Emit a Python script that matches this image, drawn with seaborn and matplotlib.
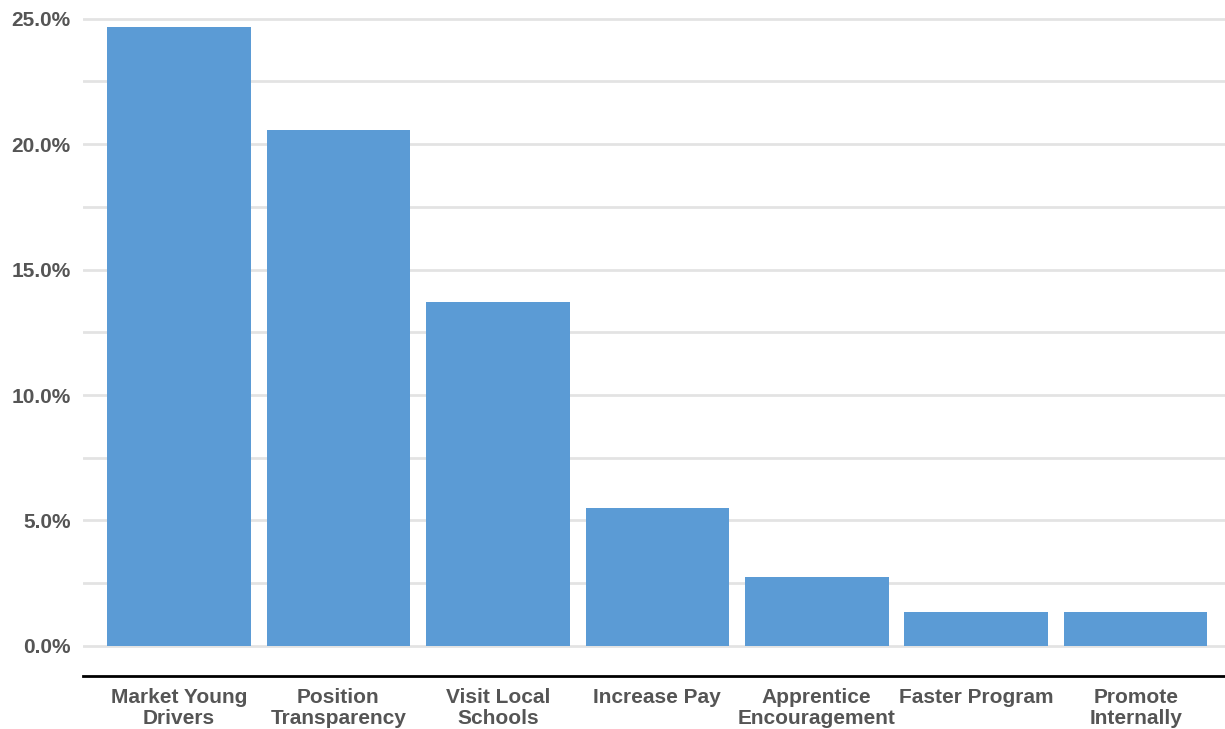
import matplotlib
matplotlib.use('Agg')
import matplotlib.pyplot as plt
import seaborn as sns
import pandas as pd
from matplotlib.ticker import FuncFormatter, MultipleLocator

categories = ['Market Young\nDrivers', 'Position\nTransparency', 'Visit Local\nSchools',
              'Increase Pay', 'Apprentice\nEncouragement', 'Faster Program', 'Promote\nInternally']
values = [24.66, 20.55, 13.70, 5.48, 2.74, 1.37, 1.37]

df = pd.DataFrame({'category': categories, 'value': values})

sns.set_style('white')
plt.rcParams['font.family'] = ['Liberation Sans', 'DejaVu Sans']

fig, ax = plt.subplots(figsize=(12.25, 7.29), dpi=100)
fig.subplots_adjust(left=0.068, right=1.0, top=0.976, bottom=0.073)

sns.barplot(data=df, x='category', y='value', color='#5B9BD5', saturation=1,
            width=0.9, linewidth=0, ax=ax, zorder=2)

ax.set_xlim(-0.6, 6.56)
ax.set_ylim(-1.19, 25.05)
ax.yaxis.set_major_locator(MultipleLocator(5))
ax.yaxis.set_minor_locator(MultipleLocator(2.5))
ax.yaxis.set_major_formatter(FuncFormatter(lambda v, p: f'{v:.1f}%'))
ax.grid(axis='y', which='both', color='#E3E3E3', linewidth=2, zorder=0)
ax.set_axisbelow(True)

for s in ['top', 'right', 'left']:
    ax.spines[s].set_visible(False)
ax.spines['bottom'].set_color('black')
ax.spines['bottom'].set_linewidth(2)

ax.tick_params(axis='both', which='both', length=0, labelsize=15, labelcolor='#555555')
ax.tick_params(axis='x', pad=9)
ax.tick_params(axis='y', pad=9)
for lab in ax.get_xticklabels() + ax.get_yticklabels():
    lab.set_fontweight('bold')
for lab in ax.get_xticklabels():
    lab.set_linespacing(1.12)

ax.set_xlabel('')
ax.set_ylabel('')

fig.savefig('out.png', dpi=100)
